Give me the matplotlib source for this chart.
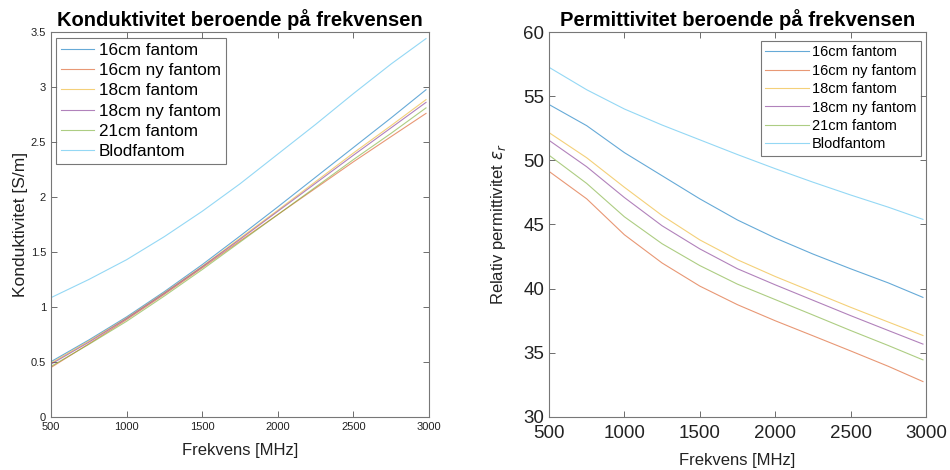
import numpy as np
import matplotlib
matplotlib.use("Agg")
import matplotlib.pyplot as plt
from matplotlib.ticker import FormatStrFormatter

plt.rcParams['font.family'] = ['Liberation Sans', 'DejaVu Sans']
plt.rcParams['mathtext.fontset'] = 'dejavusans'

# frekvenser [MHz]
freq = [500, 750, 1000, 1250, 1500, 1750, 2000, 2250, 2500, 2750, 2980]

names = ['16cm fantom', '16cm ny fantom', '18cm fantom',
         '18cm ny fantom', '21cm fantom', 'Blodfantom']

# konduktivitet [S/m]
sigma_16 = [0.503, 0.70, 0.91, 1.14, 1.385, 1.645, 1.91, 2.18, 2.45, 2.72, 2.975]
sigma_16ny = [0.45, 0.665, 0.885, 1.115, 1.355, 1.60, 1.84, 2.08, 2.32, 2.55, 2.76]
sigma_18 = [0.49, 0.69, 0.90, 1.13, 1.37, 1.625, 1.88, 2.14, 2.40, 2.65, 2.885]
sigma_18ny = [0.48, 0.68, 0.895, 1.125, 1.365, 1.615, 1.87, 2.125, 2.38, 2.63, 2.86]
sigma_21 = [0.46, 0.66, 0.87, 1.10, 1.34, 1.59, 1.84, 2.09, 2.34, 2.58, 2.81]
sigma_blod = [1.085, 1.25, 1.43, 1.64, 1.87, 2.12, 2.39, 2.66, 2.94, 3.21, 3.44]

# relativ permittivitet
eps_16 = [54.35, 52.7, 50.6, 48.8, 47.0, 45.35, 43.95, 42.7, 41.55, 40.45, 39.32]
eps_16ny = [49.14, 47.0, 44.2, 42.0, 40.2, 38.75, 37.5, 36.33, 35.15, 33.95, 32.76]
eps_18 = [52.16, 50.2, 47.9, 45.7, 43.8, 42.25, 40.95, 39.75, 38.55, 37.4, 36.35]
eps_18ny = [51.56, 49.5, 47.1, 44.9, 43.1, 41.55, 40.3, 39.1, 37.9, 36.74, 35.68]
eps_21 = [50.4, 48.2, 45.6, 43.5, 41.8, 40.35, 39.15, 37.95, 36.74, 35.57, 34.45]
eps_blod = [57.25, 55.5, 54.0, 52.75, 51.6, 50.45, 49.35, 48.3, 47.3, 46.35, 45.4]

colors = ['#0072BD', '#D95319', '#EDB120', '#7E2F8E', '#77AC30', '#4DBEEE']

sigma = [sigma_16, sigma_16ny, sigma_18, sigma_18ny, sigma_21, sigma_blod]
eps = [eps_16, eps_16ny, eps_18, eps_18ny, eps_21, eps_blod]

fig = plt.figure(figsize=(9.5, 4.7), dpi=100)
ax1 = fig.add_axes([0.0537, 0.1128, 0.3979, 0.8191])
ax2 = fig.add_axes([0.5779, 0.1128, 0.3968, 0.8191])

for s, e, c, n in zip(sigma, eps, colors, names):
    ax1.plot(freq, s, color=c, lw=0.8, alpha=0.6, label=n)
    ax2.plot(freq, e, color=c, lw=0.8, alpha=0.6, label=n)

def style(ax, fs):
    ax.set_xlim(500, 3000)
    ax.set_xticks(np.arange(500, 3001, 500))
    ax.tick_params(direction='in', top=True, right=True, length=4,
                   width=0.6, color='#555555', labelsize=fs, labelcolor='#222222')
    for sp in ax.spines.values():
        sp.set_color('#777777')
        sp.set_linewidth(0.8)

style(ax1, 8)
ax1.set_ylim(0, 3.5)
ax1.set_yticks(np.arange(0, 3.51, 0.5))
ax1.yaxis.set_major_formatter(FormatStrFormatter('%g'))
ax1.set_xlabel('Frekvens [MHz]', fontsize=12, color='#222222', labelpad=8)
ax1.set_ylabel('Konduktivitet [S/m]', fontsize=12.5, color='#222222', labelpad=2)
ax1.set_title('Konduktivitet beroende på frekvensen', fontsize=14.5,
              fontweight='bold', pad=4)
leg1 = ax1.legend(loc='upper left', bbox_to_anchor=(0.0132, 0.9844),
                  fontsize=12.3, frameon=True, fancybox=False,
                  edgecolor='#555555', borderaxespad=0, handlelength=1.9,
                  labelspacing=0.3, borderpad=0.3, handletextpad=0.3)
leg1.get_frame().set_linewidth(0.8)

style(ax2, 13.5)
ax2.tick_params(axis='x', pad=6)
ax2.set_ylim(30, 60)
ax2.set_yticks(np.arange(30, 61, 5))
ax2.set_xlabel('Frekvens [MHz]', fontsize=12, color='#222222', labelpad=8)
ax2.set_ylabel(r'Relativ permittivitet $\epsilon_r$', fontsize=12,
               color='#222222', labelpad=11)
ax2.set_title('Permittivitet beroende på frekvensen', fontsize=14.6,
              fontweight='bold', pad=4)
leg2 = ax2.legend(loc='upper right', bbox_to_anchor=(0.9867, 0.9766),
                  fontsize=10.5, frameon=True, fancybox=False,
                  edgecolor='#555555', borderaxespad=0, handlelength=3.0,
                  labelspacing=0.3, borderpad=0.3, handletextpad=0.2)
leg2.get_frame().set_linewidth(0.8)

fig.savefig('out.png', dpi=100)
